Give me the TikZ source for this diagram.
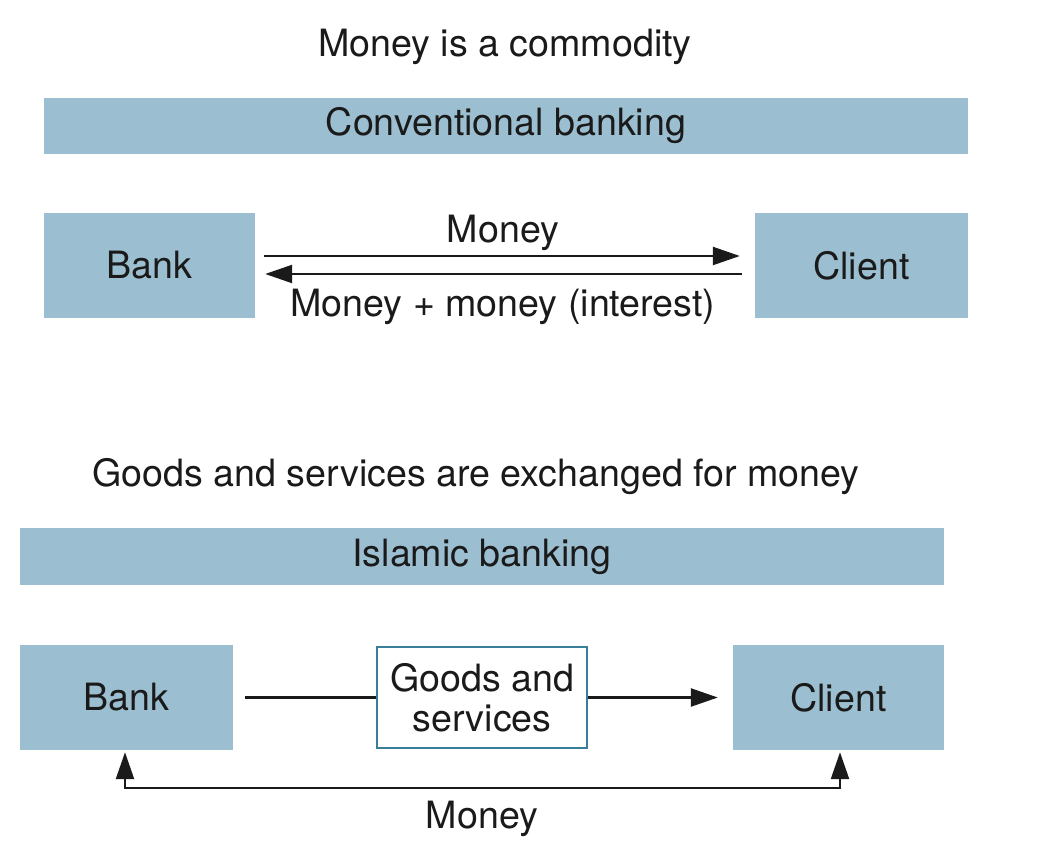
\documentclass[tikz,border=0pt]{standalone}
\usepackage{fontspec}
\setmainfont{TeX Gyre Heros}
\usetikzlibrary{arrows.meta}
\definecolor{boxblue}{HTML}{9BBFD1}
\definecolor{edgeblue}{HTML}{3A7E9C}
\definecolor{ink}{HTML}{1A1A1A}
\tikzset{
  lbl/.style={font=\fontsize{37.6}{42}\selectfont, text=ink, inner sep=0pt},
  bluebox/.style={fill=boxblue, draw=none, inner sep=0pt, font=\fontsize{37.6}{42}\selectfont, text=ink},
  whitebox/.style={fill=white, draw=edgeblue, line width=2pt, inner sep=0pt, align=center,
     font=\fontsize{37.6}{40}\selectfont, text=ink},
  arr/.style={draw=ink, line width=2.4pt, -{Triangle[length=27pt,width=18pt]}},
  plain/.style={draw=ink, line width=2.4pt},
  biarr/.style={draw=ink, line width=2.4pt, {Triangle[length=27pt,width=18pt]}-{Triangle[length=27pt,width=18pt]}}
}
\begin{document}
\begin{tikzpicture}[x=1pt,y=-1pt]
\useasboundingbox[fill=white] (0,0) rectangle (1037,842);
% top section
\node[lbl] (t1) at (505,47) {Money is a commodity};
\node[bluebox, minimum width=924pt, minimum height=56pt] (band1) at (506,126) {Conventional banking};
\node[bluebox, minimum width=211pt, minimum height=105pt] (bank1) at (149.5,265.5) {Bank};
\node[bluebox, minimum width=213pt, minimum height=105pt] (client1) at (861.5,265.5) {Client};
\draw[arr, shorten <=9pt, shorten >=15pt] ([yshift=9.5pt]bank1.east) -- ([yshift=9.5pt]client1.west);
\draw[arr, shorten <=13pt, shorten >=10pt] ([yshift=-8.5pt]client1.west) -- ([yshift=-8.5pt]bank1.east);
\node[lbl] (m1) at (503,233) {Money};
\node[lbl] (m2) at (503,307) {Money + money (interest)};
% bottom section
\node[lbl] (t2) at (476,477) {Goods and services are exchanged for money};
\node[bluebox, minimum width=924pt, minimum height=57pt] (band2) at (482,556.5) {Islamic banking};
\node[bluebox, minimum width=213pt, minimum height=105pt] (bank2) at (126.5,697.5) {Bank};
\node[bluebox, minimum width=211pt, minimum height=105pt] (client2) at (838.5,697.5) {Client};
\node[whitebox, minimum width=210pt, minimum height=101pt] (goods) at (482,697.5) {Goods and\\services};
\draw[plain, shorten <=12pt] (bank2.east) -- (goods.west);
\draw[arr, shorten >=15pt] (goods.east) -- (client2.west);
\draw[biarr, shorten <=2pt, shorten >=2pt] ([xshift=-1.5pt]bank2.south) -- ++(0,38) -| ([xshift=1.5pt]client2.south);
\node[lbl] (m3) at (482,819) {Money};
\end{tikzpicture}
\end{document}
